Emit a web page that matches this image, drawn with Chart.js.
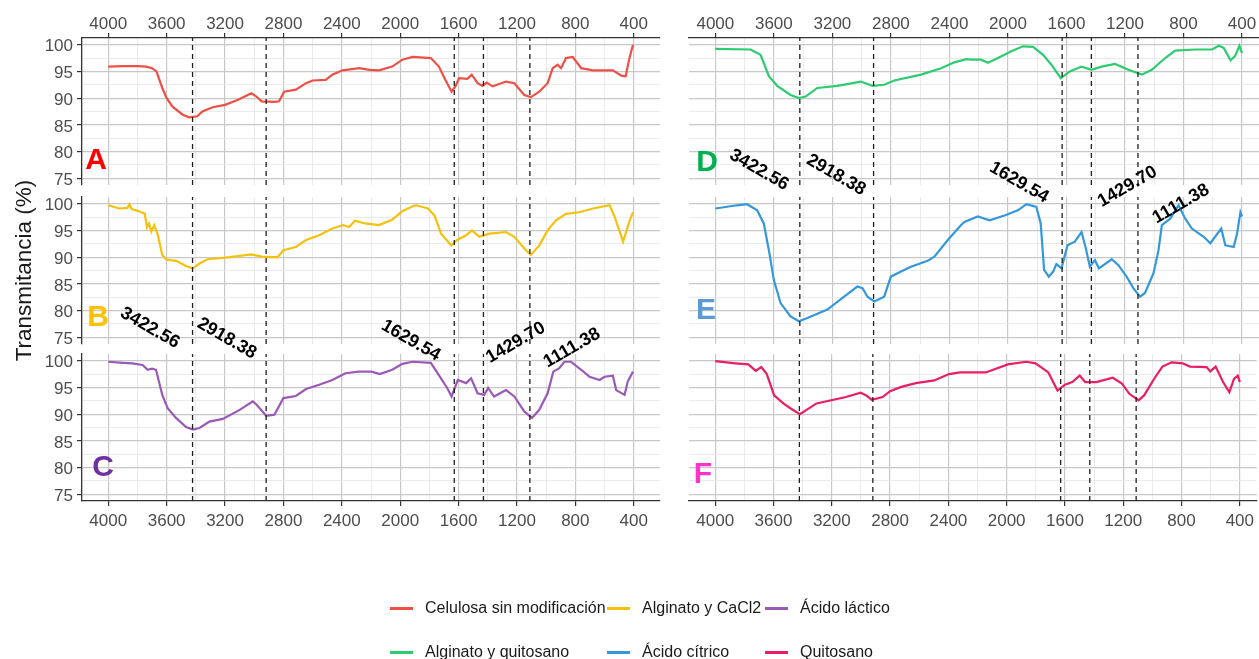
<!DOCTYPE html>
<html>
<head>
<meta charset="utf-8">
<title>Espectros FTIR</title>
<script src="https://cdn.jsdelivr.net/npm/chart.js@4.4.1/dist/chart.umd.min.js"></script>
<style>
  html, body { margin: 0; padding: 0; background: #ffffff; }
  body { width: 1259px; height: 659px; position: relative; overflow: hidden;
         font-family: 'Liberation Sans', Arial, Helvetica, sans-serif; }
  canvas { position: absolute; left: 0; top: 0; }
  .legend-item { position: absolute; display: flex; align-items: center; white-space: nowrap;
                 font-size: 16px; color: #1a1a1a; transform: translateY(-50%); }
  .legend-swatch { display: inline-block; width: 23px; height: 3px; margin-right: 12px; }
</style>
</head>
<body>
<canvas id="panelA" width="1259" height="659"></canvas>
<canvas id="panelC" width="1259" height="659"></canvas>
<canvas id="panelE" width="1259" height="659"></canvas>
<canvas id="panelF" width="1259" height="659"></canvas>
<canvas id="panelB" width="1259" height="659"></canvas>
<canvas id="panelD" width="1259" height="659"></canvas>
<div id="legend"></div>

<script>
// ---- Series ----
const seriesNames = ['Celulosa sin modificación', 'Alginato y CaCl2', 'Ácido láctico',
                     'Alginato y quitosano', 'Ácido cítrico', 'Quitosano'];
const seriesColors = ['#EF5046', '#F4C20D', '#9B59B6', '#2ECC71', '#3498DB', '#E91E63'];
const panelLetters = ['A', 'B', 'C', 'D', 'E', 'F'];
const letterColors = ['#FF0000', '#FFC000', '#7030A0', '#00B050', '#5B9BD5', '#FF33CC'];

// Characteristic bands (cm-1) marked with dashed lines
const peakValues = [3422.56, 2918.38, 1629.54, 1429.70, 1111.38];

// Axis ticks
const xTickValues = [4000, 3600, 3200, 2800, 2400, 2000, 1600, 1200, 800, 400];
const yTickValues = [75, 80, 85, 90, 95, 100];

// Celulosa sin modificación: wavenumber (cm-1) and transmittance (%)
const celulosaWn = [4000, 3900, 3800, 3740, 3700, 3670, 3630, 3600, 3560, 3490, 3445, 3390, 3355, 3285, 3200,
  3110, 3020, 2985, 2950, 2860, 2830, 2795, 2715, 2645, 2600, 2510, 2465, 2395, 2280, 2210, 2145, 2055, 1985,
  1915, 1790, 1735, 1690, 1648, 1620, 1597, 1540, 1510, 1470, 1436, 1408, 1367, 1275, 1218, 1150, 1105, 1047,
  990, 955, 921, 898, 864, 818, 760, 680, 543, 485, 455, 432, 405];
const celulosaT = [95.9, 96.0, 96.0, 95.9, 95.6, 95.0, 91.9, 90.0, 88.4, 86.9, 86.4, 86.6, 87.5, 88.3, 88.75,
  89.7, 90.9, 90.3, 89.4, 89.3, 89.4, 91.2, 91.6, 92.8, 93.3, 93.4, 94.4, 95.2, 95.6, 95.3, 95.2, 95.9, 97.2,
  97.7, 97.5, 95.9, 93.4, 91.2, 92.3, 93.75, 93.6, 94.4, 92.8, 92.3, 92.9, 92.2, 93.1, 92.8, 90.6, 90.2, 91.2,
  92.8, 95.6, 96.25, 95.6, 97.5, 97.7, 95.6, 95.2, 95.2, 94.2, 94.1, 97.2, 100.0];

// Alginato y CaCl2
const alginatoCaWn = [4000, 3925, 3870, 3855, 3840, 3790, 3750, 3735, 3720, 3705, 3685, 3660, 3630, 3600, 3535,
  3465, 3420, 3375, 3320, 3200, 3110, 3020, 2950, 2880, 2840, 2800, 2715, 2645, 2555, 2465, 2390, 2350, 2310,
  2240, 2145, 2055, 1985, 1915, 1890, 1810, 1765, 1720, 1650, 1605, 1548, 1508, 1457, 1390, 1275, 1218, 1150,
  1105, 1047, 990, 933, 864, 773, 680, 565, 530, 473, 427, 405];
const alginatoCaT = [99.7, 99.1, 99.2, 99.9, 99.0, 98.6, 98.1, 95.6, 96.3, 94.8, 96.0, 94.1, 90.4, 89.5, 89.3,
  88.3, 87.9, 88.8, 89.6, 89.9, 90.2, 90.5, 90.1, 90.0, 90.0, 91.3, 91.9, 93.2, 94.1, 95.35, 96.0, 95.65, 96.8,
  96.3, 96.0, 97.0, 98.6, 99.5, 99.7, 99.1, 97.8, 94.4, 92.2, 93.3, 94.1, 95.0, 93.8, 94.4, 94.7, 93.8, 91.6,
  90.4, 92.2, 95.0, 96.9, 98.1, 98.4, 99.1, 99.7, 97.5, 92.9, 96.9, 98.4];

// Ácido láctico
const lacticoWn = [4000, 3900, 3835, 3765, 3730, 3700, 3673, 3630, 3593, 3536, 3467, 3420, 3375, 3307, 3215,
  3100, 3010, 2985, 2918, 2862, 2800, 2715, 2645, 2555, 2465, 2375, 2285, 2195, 2140, 2055, 1985, 1915, 1790,
  1735, 1678, 1648, 1605, 1548, 1514, 1470, 1425, 1397, 1357, 1275, 1218, 1150, 1097, 1047, 990, 951, 910,
  875, 830, 760, 703, 634, 600, 543, 520, 463, 441, 405];
const lacticoT = [99.8, 99.6, 99.5, 99.2, 98.3, 98.5, 98.3, 93.6, 91.1, 89.3, 87.6, 87.1, 87.4, 88.6, 89.1,
  90.8, 92.4, 91.8, 89.7, 89.9, 93.0, 93.4, 94.7, 95.5, 96.4, 97.65, 97.95, 97.95, 97.5, 98.3, 99.4, 99.8, 99.6,
  97.3, 94.9, 93.3, 96.4, 95.8, 96.7, 93.9, 93.6, 94.9, 93.3, 94.5, 93.3, 90.5, 89.3, 90.8, 93.9, 97.95, 98.6,
  99.8, 99.8, 98.3, 97.0, 96.4, 97.0, 97.2, 94.5, 93.6, 96.1, 97.95];

// Alginato y quitosano
const alginatoQuiWn = [4000, 3760, 3691, 3634, 3577, 3486, 3429, 3383, 3303, 3166, 3006, 2925, 2846, 2777, 2594,
  2457, 2366, 2285, 2251, 2183, 2137, 2068, 1977, 1897, 1828, 1760, 1703, 1639, 1577, 1497, 1428, 1360, 1268,
  1177, 1085, 1017, 925, 857, 720, 605, 559, 525, 479, 449, 434, 418, 400];
const alginatoQuiT = [99.2, 99.1, 98.1, 94.1, 92.3, 90.6, 90.0, 90.3, 91.9, 92.3, 93.1, 92.3, 92.5, 93.3, 94.4,
  95.6, 96.7, 97.3, 97.2, 97.2, 96.6, 97.5, 98.75, 99.7, 99.6, 98.1, 96.25, 93.75, 95.0, 95.9, 95.3, 95.9, 96.4,
  95.3, 94.4, 95.3, 97.5, 98.9, 99.1, 99.1, 99.8, 99.4, 97.1, 97.8, 98.75, 99.8, 98.4];

// Ácido cítrico
const citricoWn = [4000, 3851, 3783, 3714, 3669, 3634, 3600, 3554, 3486, 3429, 3371, 3234, 3120, 3029, 2994,
  2960, 2914, 2846, 2800, 2731, 2663, 2549, 2503, 2411, 2320, 2297, 2206, 2126, 2023, 1932, 1874, 1806, 1776,
  1753, 1721, 1691, 1669, 1634, 1593, 1543, 1497, 1470, 1440, 1406, 1378, 1291, 1245, 1189, 1143, 1097, 1063,
  1005, 971, 948, 891, 834, 788, 743, 662, 617, 542, 514, 457, 434, 411, 400];
const citricoT = [99.1, 99.7, 99.9, 98.75, 96.3, 91.3, 85.7, 81.4, 78.9, 78.0, 78.6, 80.2, 82.6, 84.5, 84.2,
  82.6, 81.7, 82.6, 86.35, 87.3, 88.2, 89.3, 90.1, 93.2, 96.0, 96.6, 97.6, 96.9, 97.8, 98.75, 99.9, 99.4, 96.3,
  87.6, 86.35, 87.3, 88.7, 87.9, 92.2, 92.9, 94.7, 91.9, 88.2, 89.45, 87.9, 89.6, 88.5, 86.35, 84.2, 82.6, 83.3,
  87.0, 91.3, 96.0, 97.2, 99.7, 97.2, 95.35, 93.8, 92.6, 95.35, 92.2, 91.9, 94.4, 98.4, 97.6];

// Quitosano
const quitosanoWn = [4000, 3861, 3773, 3722, 3684, 3646, 3596, 3533, 3482, 3419, 3368, 3305, 3204, 3103, 3002,
  2964, 2926, 2851, 2800, 2724, 2623, 2497, 2396, 2320, 2143, 2093, 1992, 1866, 1802, 1714, 1651, 1600, 1550,
  1499, 1461, 1385, 1272, 1209, 1158, 1095, 1057, 981, 931, 868, 792, 742, 628, 603, 566, 515, 472, 440, 414, 400];
const quitosanoT = [99.9, 99.5, 99.3, 98.1, 98.8, 97.5, 93.5, 92.0, 91.05, 90.0, 90.9, 92.0, 92.6, 93.2, 94.0,
  93.5, 92.7, 93.2, 94.3, 95.1, 95.8, 96.3, 97.5, 97.8, 97.8, 98.3, 99.3, 99.8, 99.5, 97.8, 94.4, 95.5, 96.0,
  97.2, 96.0, 96.0, 96.8, 95.7, 93.8, 92.6, 93.5, 96.9, 98.9, 99.7, 99.5, 98.9, 98.8, 98.0, 98.9, 96.0, 94.1,
  96.6, 97.2, 96.0];

// ---- Layout ----
Chart.defaults.font.family = "'Liberation Sans', Arial, Helvetica, sans-serif";
Chart.defaults.animation = false;

const W = 1259, H = 659;
const X_MAX = 4180;
const Y_MIN = 73.75, Y_MAX = 101.25;
const COLUMNS = [
  { left: 82, right: 660, xMin: 220 },
  { left: 689, right: 1259, xMin: 284 }
];
const ROWS = [
  { top: 38, bottom: 185 },
  { top: 197, bottom: 344 },
  { top: 354, bottom: 501 }
];
const BOTTOM_AXIS_H = 40;
const TICK_COLOR = '#4d4d4d';
const AXIS_COLOR = '#333333';
const GRID_MAJOR = '#c8c8c8';
const GRID_MINOR = '#e6e6e6';

const xGridValues = [];
for (let v = 4000; v >= 400; v -= 200) xGridValues.push(v);
const yGridValues = [];
for (let v = 75; v <= 100; v += 2.5) yGridValues.push(v);

// Rotated band labels, placed in data coordinates of the panel that draws them
const bandLabelsLeft = [
  { text: '3422.56', at: [3714, 76.74], angle: 30 },
  { text: '2918.38', at: [3188, 74.8], angle: 30 },
  { text: '1629.54', at: [1927, 74.4], angle: 30 },
  { text: '1429.70', at: [1208, 74.0], angle: -30 },
  { text: '1111.38', at: [823, 73.0], angle: -30 }
];
const bandLabelsRight = [
  { text: '3422.56', at: [3701, 76.56], angle: 30 },
  { text: '2918.38', at: [3175, 75.63], angle: 30 },
  { text: '1629.54', at: [1924, 74.22], angle: 30 },
  { text: '1429.70', at: [1183, 73.43], angle: -30 },
  { text: '1111.38', at: [817, 70.2], angle: -30 }
];

const panels = [
  { canvas: 'panelA', wn: celulosaWn,    t: celulosaT,    idx: 0, col: 0, row: 0, letterAt: [4084, 78.24] },
  { canvas: 'panelB', wn: alginatoCaWn,  t: alginatoCaT,  idx: 1, col: 0, row: 1, letterAt: [4070, 78.6],
    labels: bandLabelsLeft, yTitle: 'Transmitancia (%)' },
  { canvas: 'panelC', wn: lacticoWn,     t: lacticoT,     idx: 2, col: 0, row: 2, letterAt: [4036, 80.0] },
  { canvas: 'panelD', wn: alginatoQuiWn, t: alginatoQuiT, idx: 3, col: 1, row: 0, letterAt: [4057, 77.96],
    labels: bandLabelsRight },
  { canvas: 'panelE', wn: citricoWn,     t: citricoT,     idx: 4, col: 1, row: 1, letterAt: [4064, 79.9] },
  { canvas: 'panelF', wn: quitosanoWn,   t: quitosanoT,   idx: 5, col: 1, row: 2, letterAt: [4084, 78.6] }
];

// Panel letters, band labels and the shared y-axis title
const panelTextPlugin = {
  id: 'panelText',
  afterDraw(chart, args, opts) {
    const { ctx, chartArea } = chart;
    const xs = chart.scales.x, ys = chart.scales.y;
    ctx.save();
    ctx.textAlign = 'center';
    ctx.textBaseline = 'middle';

    ctx.font = "bold 30px 'Liberation Sans', Arial, sans-serif";
    ctx.fillStyle = opts.letterColor;
    ctx.fillText(opts.letter, xs.getPixelForValue(opts.letterAt[0]), ys.getPixelForValue(opts.letterAt[1]));

    if (opts.labels) {
      ctx.font = "bold 18px 'Liberation Sans', Arial, sans-serif";
      ctx.fillStyle = '#000000';
      opts.labels.forEach(l => {
        ctx.save();
        ctx.translate(xs.getPixelForValue(l.at[0]), ys.getPixelForValue(l.at[1]));
        ctx.rotate(l.angle * Math.PI / 180);
        ctx.fillText(l.text, 0, 0);
        ctx.restore();
      });
    }

    if (opts.yTitle) {
      ctx.save();
      ctx.font = "22.5px 'Liberation Sans', Arial, sans-serif";
      ctx.fillStyle = '#1a1a1a';
      ctx.translate(25, (chartArea.top + chartArea.bottom) / 2);
      ctx.rotate(-Math.PI / 2);
      ctx.fillText(opts.yTitle, 0, 0);
      ctx.restore();
    }
    ctx.restore();
  }
};

function buildPanel(p) {
  const col = COLUMNS[p.col];
  const row = ROWS[p.row];
  const isLeft = p.col === 0;
  const showX = p.row !== 1;
  const xPos = p.row === 0 ? 'top' : 'bottom';
  const xAxisH = p.row === 0 ? row.top : (p.row === 2 ? BOTTOM_AXIS_H : 0);

  const padding = {
    left: isLeft ? 0 : col.left,
    right: W - col.right,
    top: p.row === 0 ? 0 : row.top,
    bottom: p.row === 2 ? H - row.bottom - BOTTOM_AXIS_H : H - row.bottom
  };

  const datasets = [{
    label: seriesNames[p.idx],
    data: p.wn.map((w, k) => ({ x: w, y: p.t[k] })),
    borderColor: seriesColors[p.idx],
    borderWidth: 2.2,
    pointRadius: 0,
    tension: 0,
    fill: false,
    order: 1
  }];
  peakValues.forEach(v => {
    datasets.push({
      label: String(v),
      data: [{ x: v, y: Y_MIN }, { x: v, y: Y_MAX }],
      borderColor: '#1f1f1f',
      borderWidth: 1.3,
      borderDash: [5, 4],
      pointRadius: 0,
      fill: false,
      order: 0
    });
  });

  return new Chart(document.getElementById(p.canvas), {
    type: 'line',
    data: { datasets },
    plugins: [panelTextPlugin],
    options: {
      responsive: false,
      devicePixelRatio: 1,
      animation: false,
      layout: { padding },
      plugins: {
        legend: { display: false },
        tooltip: { enabled: false },
        panelText: {
          letter: panelLetters[p.idx],
          letterColor: letterColors[p.idx],
          letterAt: p.letterAt,
          labels: p.labels,
          yTitle: p.yTitle
        }
      },
      scales: {
        x: {
          type: 'linear',
          position: xPos,
          reverse: true,
          min: col.xMin,
          max: X_MAX,
          afterBuildTicks: s => { s.ticks = xGridValues.map(v => ({ value: v })); },
          afterFit: s => { s.height = xAxisH; },
          ticks: {
            display: showX,
            autoSkip: false,
            maxRotation: 0,
            minRotation: 0,
            color: TICK_COLOR,
            font: { size: 17 },
            padding: p.row === 0 ? -2 : 5,
            callback: v => (xTickValues.includes(v) ? String(v) : '')
          },
          grid: {
            color: c => (c.tick && xTickValues.includes(c.tick.value) ? GRID_MAJOR : GRID_MINOR),
            lineWidth: c => (c.tick && xTickValues.includes(c.tick.value) ? 1.2 : 0.8),
            drawTicks: showX,
            tickLength: 5,
            tickColor: c => (c.tick && xTickValues.includes(c.tick.value) ? AXIS_COLOR : 'rgba(0,0,0,0)')
          },
          border: { display: showX, color: AXIS_COLOR, width: 1.3 }
        },
        y: {
          type: 'linear',
          position: 'left',
          min: Y_MIN,
          max: Y_MAX,
          afterBuildTicks: s => { s.ticks = yGridValues.map(v => ({ value: v })); },
          afterFit: s => { s.width = isLeft ? col.left : 0; },
          ticks: {
            display: isLeft,
            autoSkip: false,
            color: TICK_COLOR,
            font: { size: 17 },
            padding: 4,
            labelOffset: 2,
            callback: v => (yTickValues.includes(v) ? String(v) : '')
          },
          grid: {
            color: c => (c.tick && yTickValues.includes(c.tick.value) ? GRID_MAJOR : GRID_MINOR),
            lineWidth: c => (c.tick && yTickValues.includes(c.tick.value) ? 1.2 : 0.8),
            drawTicks: isLeft,
            tickLength: 5,
            tickColor: c => (c.tick && yTickValues.includes(c.tick.value) ? AXIS_COLOR : 'rgba(0,0,0,0)')
          },
          border: { display: isLeft, color: AXIS_COLOR, width: 1.3 }
        }
      }
    }
  });
}

panels.forEach(buildPanel);

// ---- Legend (two rows of three) ----
const legendSlots = [
  { left: 390, top: 608 }, { left: 607, top: 608 }, { left: 765, top: 608 },
  { left: 390, top: 652 }, { left: 607, top: 652 }, { left: 765, top: 652 }
];
const legendEl = document.getElementById('legend');
seriesNames.forEach((name, i) => {
  const item = document.createElement('div');
  item.className = 'legend-item';
  item.style.left = legendSlots[i].left + 'px';
  item.style.top = legendSlots[i].top + 'px';
  const sw = document.createElement('span');
  sw.className = 'legend-swatch';
  sw.style.background = seriesColors[i];
  const label = document.createElement('span');
  label.textContent = name;
  item.appendChild(sw);
  item.appendChild(label);
  legendEl.appendChild(item);
});
</script>
</body>
</html>
